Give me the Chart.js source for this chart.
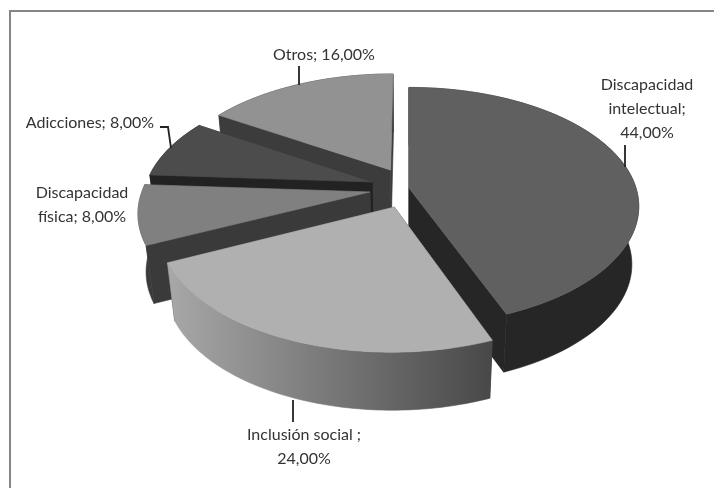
<!doctype html>
<html lang="es">
<head>
<meta charset="utf-8">
<title>Pie 3D</title>
<script src="https://cdn.jsdelivr.net/npm/chart.js"></script>
<style>
  html, body { margin: 0; padding: 0; background: #fff; }
  canvas { display: block; }
</style>
</head>
<body>
<canvas id="pie" width="714" height="488"></canvas>
<script>
// data
const categories = ['Discapacidad intelectual', 'Inclusión social', 'Discapacidad física', 'Adicciones', 'Otros'];
const values = [44, 24, 8, 8, 16];
const labelLines = [
  ['Discapacidad', 'intelectual;', '44,00%'],
  ['Inclusión social ;', '24,00%'],
  ['Discapacidad', 'física; 8,00%'],
  ['Adicciones; 8,00%'],
  ['Otros; 16,00%']
];

// style
const topColors = ['#606060', '#b0b0b0', '#808080', '#4c4c4c', '#929292'];
const sideColors = ['#262626', '#3a3a3a', '#3a3a3a', '#222222', '#3c3c3c'];
const wallFrom = ['#262626', '#a8a8a8', '#6a6a6a', '#222222', '#3c3c3c'];
const wallTo = ['#262626', '#484848', '#3a3a3a', '#222222', '#3c3c3c'];
const explodeU = [0, -0.063, -0.171, -0.164, -0.083];
const explodeV = [-0.017, 0.143, 0.017, -0.069, -0.175];
const drawOrder = [4, 3, 2, 0, 1];
const labelX = [647, 304, 82, 90, 324];
const labelY = [85, 435, 193, 123, 55];
const leaders = [
  [[625, 145], [625, 167]],
  [[293, 400], [293, 422]],
  [[171, 148], [168, 127], [160, 127]],
  [],
  [[299, 66], [299, 85]]
];

// perspective of the tilted disc
const CX = 409, CY = 190, F = 227.6, TILT = 0.513, PERSP = 0.155, DEPTH = 58, SHRINK = 0.97;

function proj(u, v) {
  const w = 1 / (1 - PERSP * v);
  return [CX + F * u * w, CY + F * TILT * v * w];
}
function lower(p) {
  return [CX + SHRINK * (p[0] - CX), p[1] + DEPTH];
}
function poly(ctx, pts, fill) {
  ctx.beginPath();
  pts.forEach((p, i) => i ? ctx.lineTo(p[0], p[1]) : ctx.moveTo(p[0], p[1]));
  ctx.closePath();
  ctx.fillStyle = fill;
  ctx.strokeStyle = fill;
  ctx.lineWidth = 0.6;
  ctx.fill();
  ctx.stroke();
}

const pie3d = {
  id: 'pie3d',
  beforeDraw(chart) {
    const ctx = chart.ctx;
    ctx.save();
    ctx.fillStyle = '#fff';
    ctx.fillRect(0, 0, 714, 488);
    // only the top and left edges of the frame are in the picture
    ctx.strokeStyle = '#868686';
    ctx.lineWidth = 2;
    ctx.beginPath();
    ctx.moveTo(10, 488);
    ctx.lineTo(10, 11);
    ctx.lineTo(714, 11);
    ctx.stroke();
    ctx.restore();
  },
  // the flat arcs are replaced by their projected version
  beforeDatasetDraw(chart) {
    const ctx = chart.ctx;
    const arcs = chart.getDatasetMeta(0).data;
    ctx.save();
    drawOrder.forEach(i => {
      const a0 = arcs[i].startAngle + Math.PI / 2;
      const a1 = arcs[i].endAngle + Math.PI / 2;
      const apex = proj(explodeU[i], explodeV[i]);
      const rim = [];
      for (let s = 0; s <= 80; s++) {
        const a = a0 + (a1 - a0) * s / 80;
        rim.push(proj(explodeU[i] + Math.sin(a), explodeV[i] - Math.cos(a)));
      }
      const first = rim[0], last = rim[rim.length - 1];
      poly(ctx, [apex, first, lower(first), lower(apex)], sideColors[i]);
      poly(ctx, [apex, last, lower(last), lower(apex)], sideColors[i]);
      const xs = rim.map(p => p[0]);
      const g = ctx.createLinearGradient(Math.min(...xs), 0, Math.max(...xs), 0);
      g.addColorStop(0, wallFrom[i]);
      g.addColorStop(1, wallTo[i]);
      poly(ctx, rim.concat(rim.map(lower).reverse()), g);
      poly(ctx, [apex].concat(rim), topColors[i]);
    });
    ctx.restore();
    return false;
  },
  afterDatasetsDraw(chart) {
    const ctx = chart.ctx;
    ctx.save();
    ctx.strokeStyle = '#222';
    ctx.lineWidth = 1.8;
    leaders.forEach(l => {
      if (!l.length) return;
      ctx.beginPath();
      l.forEach((p, i) => i ? ctx.lineTo(p[0], p[1]) : ctx.moveTo(p[0], p[1]));
      ctx.stroke();
    });
    ctx.fillStyle = '#333';
    ctx.font = '16px Lato';
    ctx.textAlign = 'center';
    ctx.textBaseline = 'middle';
    labelLines.forEach((lines, i) => {
      lines.forEach((t, j) => ctx.fillText(t, labelX[i], labelY[i] + j * 24));
    });
    ctx.restore();
  }
};

new Chart(document.getElementById('pie'), {
  type: 'pie',
  data: {
    labels: categories,
    datasets: [{ data: values, backgroundColor: topColors, borderWidth: 0 }]
  },
  options: {
    responsive: false,
    animation: false,
    plugins: { legend: { display: false }, tooltip: { enabled: false } }
  },
  plugins: [pie3d]
});
</script>
</body>
</html>
